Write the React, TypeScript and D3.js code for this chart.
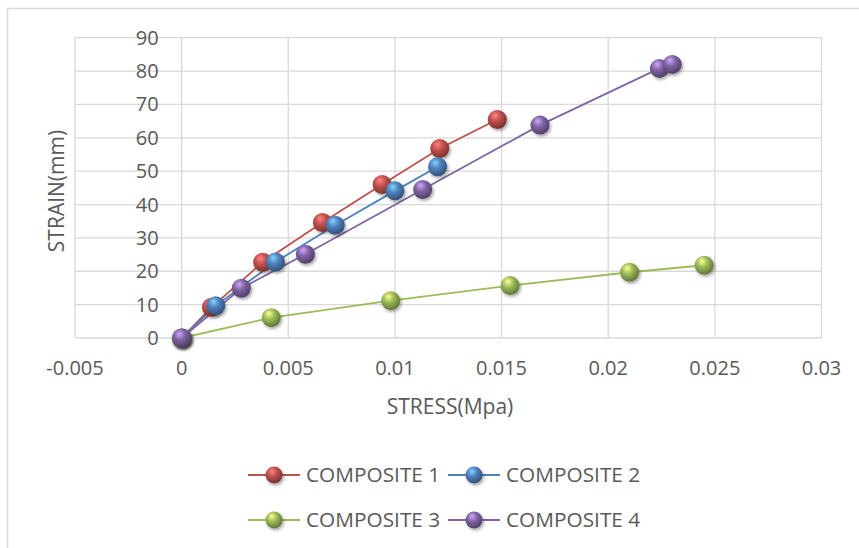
import React, { useEffect, useRef } from "react";
import * as d3 from "d3";

interface Pt {
  stress: number;
  strain: number;
}

const composite1: Pt[] = [
  { stress: 0, strain: 0 },
  { stress: 0.0014, strain: 9.2 },
  { stress: 0.0038, strain: 22.7 },
  { stress: 0.0066, strain: 34.6 },
  { stress: 0.0094, strain: 46 },
  { stress: 0.0121, strain: 56.8 },
  { stress: 0.0148, strain: 65.5 },
];
const composite2: Pt[] = [
  { stress: 0, strain: 0 },
  { stress: 0.0016, strain: 9.7 },
  { stress: 0.0044, strain: 22.8 },
  { stress: 0.0072, strain: 33.8 },
  { stress: 0.01, strain: 44.1 },
  { stress: 0.012, strain: 51.3 },
];
const composite3: Pt[] = [
  { stress: 0, strain: 0 },
  { stress: 0.0042, strain: 6.1 },
  { stress: 0.0098, strain: 11.2 },
  { stress: 0.0154, strain: 15.7 },
  { stress: 0.021, strain: 19.7 },
  { stress: 0.0245, strain: 21.8 },
];
const composite4: Pt[] = [
  { stress: 0, strain: 0 },
  { stress: 0.0028, strain: 14.9 },
  { stress: 0.0058, strain: 25.1 },
  { stress: 0.0113, strain: 44.5 },
  { stress: 0.0168, strain: 63.8 },
  { stress: 0.0224, strain: 80.8 },
  { stress: 0.023, strain: 82 },
];

const seriesNames = ["COMPOSITE 1", "COMPOSITE 2", "COMPOSITE 3", "COMPOSITE 4"];
const seriesColors = ["#C0504D", "#4F81BD", "#9BBB59", "#8064A2"];
const seriesData = [composite1, composite2, composite3, composite4];

const xTicks = [-0.005, 0, 0.005, 0.01, 0.015, 0.02, 0.025, 0.03];
const yTicks = [0, 10, 20, 30, 40, 50, 60, 70, 80, 90];

const width = 859;
const height = 548;
const font = "'Open Sans', sans-serif";
const textColor = "#595959";

const App: React.FC = () => {
  const svgRef = useRef<SVGSVGElement | null>(null);

  useEffect(() => {
    if (!svgRef.current) return;
    const svg = d3.select(svgRef.current);
    svg.selectAll("*").remove();

    const x = d3.scaleLinear().domain([-0.005, 0.03]).range([75, 821.5]);
    const y = d3.scaleLinear().domain([0, 90]).range([338, 37.7]);

    // gradients + shadow for the ball markers
    const defs = svg.append("defs");
    seriesColors.forEach((c, i) => {
      const g = defs
        .append("radialGradient")
        .attr("id", `ball${i}`)
        .attr("cx", "40%")
        .attr("cy", "35%")
        .attr("r", "65%")
        .attr("fx", "38%")
        .attr("fy", "28%");
      g.append("stop").attr("offset", "0%").attr("stop-color", d3.color(c)!.brighter(1.4).formatHex());
      g.append("stop").attr("offset", "45%").attr("stop-color", c);
      g.append("stop").attr("offset", "100%").attr("stop-color", d3.color(c)!.darker(1.3).formatHex());
    });
    const f = defs
      .append("filter")
      .attr("id", "shadow")
      .attr("x", "-50%")
      .attr("y", "-50%")
      .attr("width", "200%")
      .attr("height", "200%");
    f.append("feDropShadow")
      .attr("dx", 1.5)
      .attr("dy", 2)
      .attr("stdDeviation", 1.5)
      .attr("flood-color", "#000")
      .attr("flood-opacity", 0.35);

    // chart border
    svg
      .append("rect")
      .attr("x", 7.5)
      .attr("y", 8.5)
      .attr("width", 870)
      .attr("height", 560)
      .attr("fill", "white")
      .attr("stroke", "#d9d9d9")
      .attr("stroke-width", 1.5);

    // grid
    svg
      .selectAll(".xg")
      .data(xTicks)
      .enter()
      .append("line")
      .attr("x1", (d) => x(d))
      .attr("x2", (d) => x(d))
      .attr("y1", y(90))
      .attr("y2", y(0))
      .attr("stroke", "#d9d9d9")
      .attr("stroke-width", 1.3);
    svg
      .selectAll(".yg")
      .data(yTicks)
      .enter()
      .append("line")
      .attr("y1", (d) => y(d))
      .attr("y2", (d) => y(d))
      .attr("x1", x(-0.005))
      .attr("x2", x(0.03))
      .attr("stroke", "#d9d9d9")
      .attr("stroke-width", 1.3);

    // y tick labels sit left of the x=0 axis
    svg
      .selectAll(".yl")
      .data(yTicks)
      .enter()
      .append("text")
      .attr("x", x(0) - 23)
      .attr("y", (d) => y(d))
      .attr("dy", "0.35em")
      .attr("text-anchor", "end")
      .attr("font-family", font)
      .attr("font-size", 20)
      .attr("fill", textColor)
      .text((d) => d);

    svg
      .selectAll(".xl")
      .data(xTicks)
      .enter()
      .append("text")
      .attr("x", (d) => x(d))
      .attr("y", 368)
      .attr("dy", "0.35em")
      .attr("text-anchor", "middle")
      .attr("font-family", font)
      .attr("font-size", 20)
      .attr("fill", textColor)
      .text((d) => String(d));

    // axis titles
    svg
      .append("text")
      .attr("x", 450)
      .attr("y", 407)
      .attr("dy", "0.35em")
      .attr("text-anchor", "middle")
      .attr("font-family", font)
      .attr("font-size", 21)
      .attr("fill", textColor)
      .text("STRESS(Mpa)");
    svg
      .append("text")
      .attr("transform", `translate(57,191) rotate(-90)`)
      .attr("dy", "0.35em")
      .attr("text-anchor", "middle")
      .attr("font-family", font)
      .attr("font-size", 21)
      .attr("fill", textColor)
      .text("STRAIN(mm)");

    // series
    const line = d3
      .line<Pt>()
      .x((d) => x(d.stress))
      .y((d) => y(d.strain));

    seriesData.forEach((data, i) => {
      svg
        .append("path")
        .datum(data)
        .attr("d", line)
        .attr("fill", "none")
        .attr("stroke", seriesColors[i])
        .attr("stroke-width", 1.8);
    });
    seriesData.forEach((data, i) => {
      svg
        .append("g")
        .selectAll("circle")
        .data(data)
        .enter()
        .append("circle")
        .attr("cx", (d) => x(d.stress))
        .attr("cy", (d) => y(d.strain))
        .attr("r", 9.5)
        .attr("fill", `url(#ball${i})`)
        .attr("filter", "url(#shadow)");
    });

    // legend
    const legendPos = [
      { lx: 248, ly: 475 },
      { lx: 448, ly: 475 },
      { lx: 248, ly: 520 },
      { lx: 448, ly: 520 },
    ];
    seriesNames.forEach((name, i) => {
      const { lx, ly } = legendPos[i];
      const g = svg.append("g");
      g.append("line")
        .attr("x1", lx)
        .attr("x2", lx + 52)
        .attr("y1", ly)
        .attr("y2", ly)
        .attr("stroke", seriesColors[i])
        .attr("stroke-width", 1.8);
      g.append("circle")
        .attr("cx", lx + 26)
        .attr("cy", ly)
        .attr("r", 8.5)
        .attr("fill", `url(#ball${i})`)
        .attr("filter", "url(#shadow)");
      g.append("text")
        .attr("x", lx + 58)
        .attr("y", ly)
        .attr("dy", "0.35em")
        .attr("font-family", font)
        .attr("font-size", 20.8)
        .attr("fill", textColor)
        .text(name);
    });
  }, []);

  return (
    <div style={{ position: "fixed", left: 0, top: 0, width, height, background: "white" }}>
      <svg ref={svgRef} width={width} height={height} style={{ display: "block" }} />
    </div>
  );
};

export default App;
